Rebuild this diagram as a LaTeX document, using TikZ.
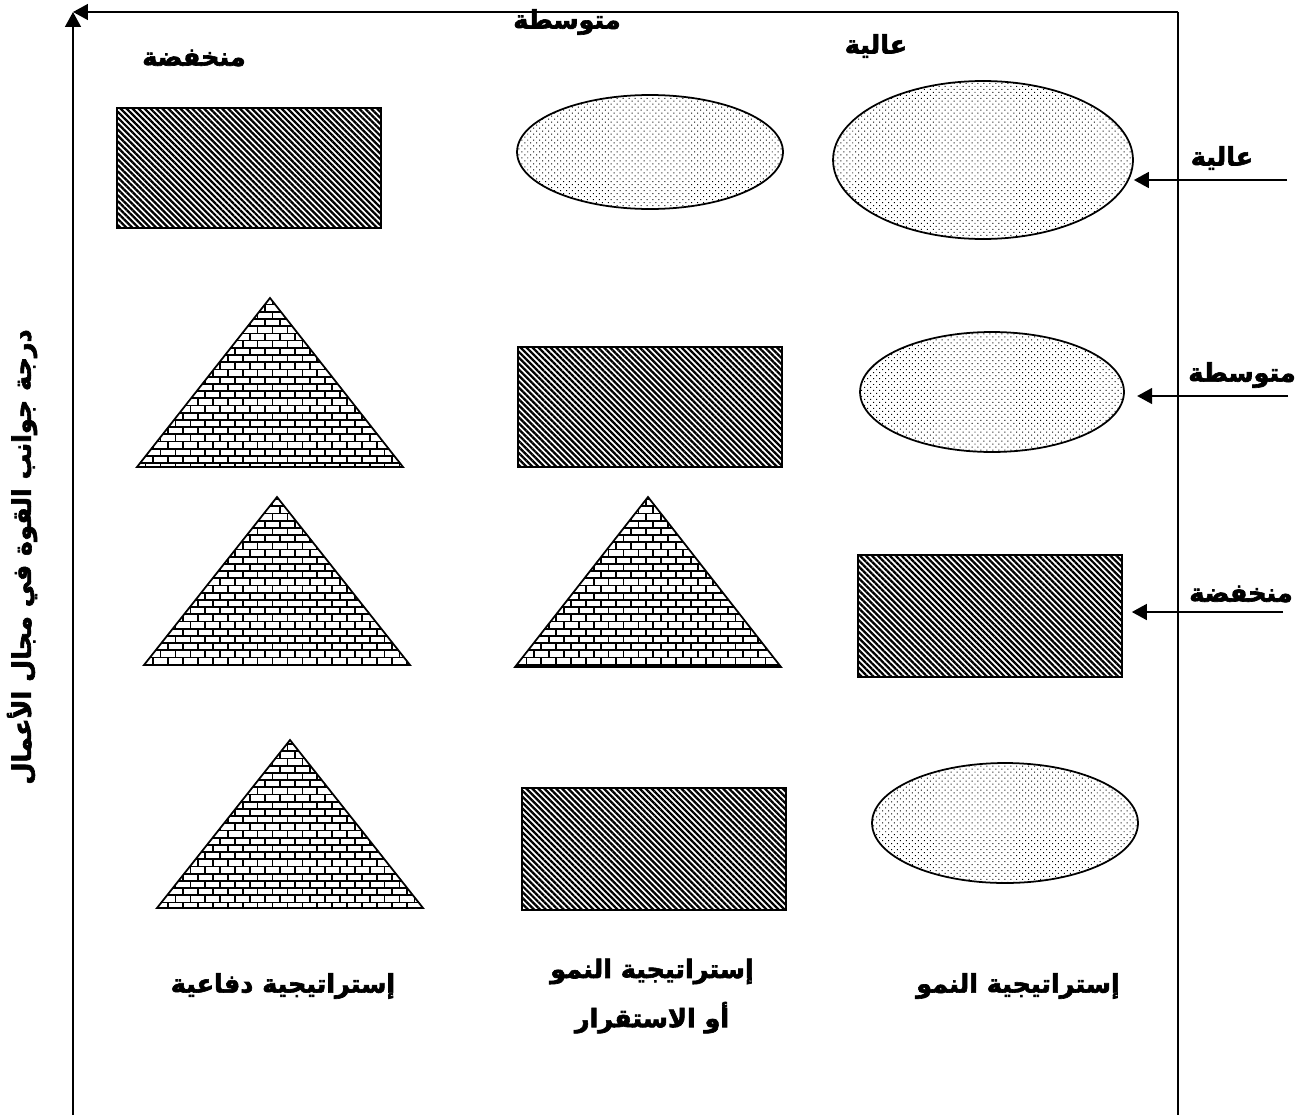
\documentclass[tikz,border=0pt]{standalone}
\usepackage{fontspec}
\newfontfamily\arabicfont[Script=Arabic,BoldFeatures={FakeBold=2.5}]{DejaVu Sans}
\TeXXeTstate=1
\usepackage{tikz}
\usetikzlibrary{arrows.meta,positioning,shapes.geometric,patterns,patterns.meta}

\tikzdeclarepattern{
  name=brickwall,
  type=uncolored,
  bottom left={(-.5pt,-.5pt)},
  top right={(9pt,8.7pt)},
  tile size={(8.5pt,8.2pt)},
  code={
    \draw[line width=1pt] (0pt,2.05pt) -- (8.5pt,2.05pt) (0pt,6.15pt) -- (8.5pt,6.15pt)
      (2.125pt,2.05pt) -- (2.125pt,6.15pt)
      (6.375pt,6.15pt) -- (6.375pt,8.2pt) (6.375pt,0pt) -- (6.375pt,2.05pt);
  }
}

\begin{document}
\begin{tikzpicture}[
  x=0.02cm,y=-0.02cm,
  >={Triangle[length=8.5pt,width=9pt]},
  axis/.style={->,line width=1.1pt},
  lbl/.style={font=\arabicfont\bfseries\fontsize{14.5}{28}\selectfont,inner sep=0pt},
  hatchbox/.style={draw,line width=1.2pt,minimum width=5.28cm,minimum height=2.4cm,inner sep=0pt,
    pattern={Lines[angle=-45,distance=2.4pt,line width=1.3pt]}},
  speckle/.style={draw,ellipse,line width=1pt,inner sep=0pt,
    pattern={Dots[angle=45,distance=2.4pt,radius=.4pt]}},
  pyramid/.style={draw,line width=1pt,pattern=brickwall},
  link/.style={->,line width=1.1pt}
]
\useasboundingbox (0,0) rectangle (1310,1115);
% frame
\coordinate (corner) at (73,12);
\coordinate (foot) at (73,1115);
\coordinate (topend) at (1178,12);
\coordinate (rightfoot) at (1178,1115);
\draw[axis] (foot) -- (corner);
\draw[axis] (topend) -- (corner);
\draw[line width=1.1pt] (topend) -- (rightfoot);
\node[lbl,rotate=90] (axisTitle) at (22,557) {\beginR درجة جوانب القوة في مجال الأعمال\endR};

% column heads
\node[lbl] (colLow) at (194,58) {\beginR منخفضة\endR};
\node[lbl] (colMid) at (567,22) {\beginR متوسطة\endR};
\node[lbl] (colHigh) at (876,46) {\beginR عالية\endR};

% shapes
\node[hatchbox] (r11) at (249,168) {};
\node[speckle,minimum width=5.32cm,minimum height=2.28cm] (e12) at (650,152) {};
\node[speckle,minimum width=6cm,minimum height=3.16cm] (e13) at (983,160) {};
\node[hatchbox] (r22) at (650,407) {};
\node[speckle,minimum width=5.28cm,minimum height=2.4cm] (e23) at (992,392) {};
\node[hatchbox,minimum height=2.44cm] (r33) at (990,616) {};
\node[hatchbox,minimum height=2.44cm] (r42) at (654,849) {};
\node[speckle,minimum width=5.32cm,minimum height=2.4cm] (e43) at (1005,823) {};
\foreach \ax/\ay/\by in {270/298/467,277/497/665,648/497/667,290/740/908}
  \draw[pyramid] (\ax-133,\by) -- (\ax,\ay) -- (\ax+133,\by) -- cycle;

% row heads
\coordinate (tailHigh) at (1287,180);
\coordinate (tailMid) at (1288,396);
\coordinate (tailLow) at (1283,612);
\node[lbl] (rowHigh) at (1222,158) {\beginR عالية\endR};
\node[lbl] (rowMid) at (1242,375) {\beginR متوسطة\endR};
\node[lbl] (rowLow) at (1241,594) {\beginR منخفضة\endR};
\draw[link] (tailHigh) -- (tailHigh -| e13.east);
\draw[link,shorten >=7pt] (tailMid) -- (tailMid -| e23.east);
\draw[link,shorten >=5pt] (tailLow) -- (tailLow -| r33.east);

% strategies
\node[lbl] (stratDef) at (283,986) {\beginR إستراتيجية دفاعية\endR};
\node[lbl,align=center] (stratMid) at (652,996) {\beginR إستراتيجية النمو\endR\\\beginR أو الاستقرار\endR};
\node[lbl] (stratGrow) at (1018,986) {\beginR إستراتيجية النمو\endR};
\end{tikzpicture}
\end{document}
